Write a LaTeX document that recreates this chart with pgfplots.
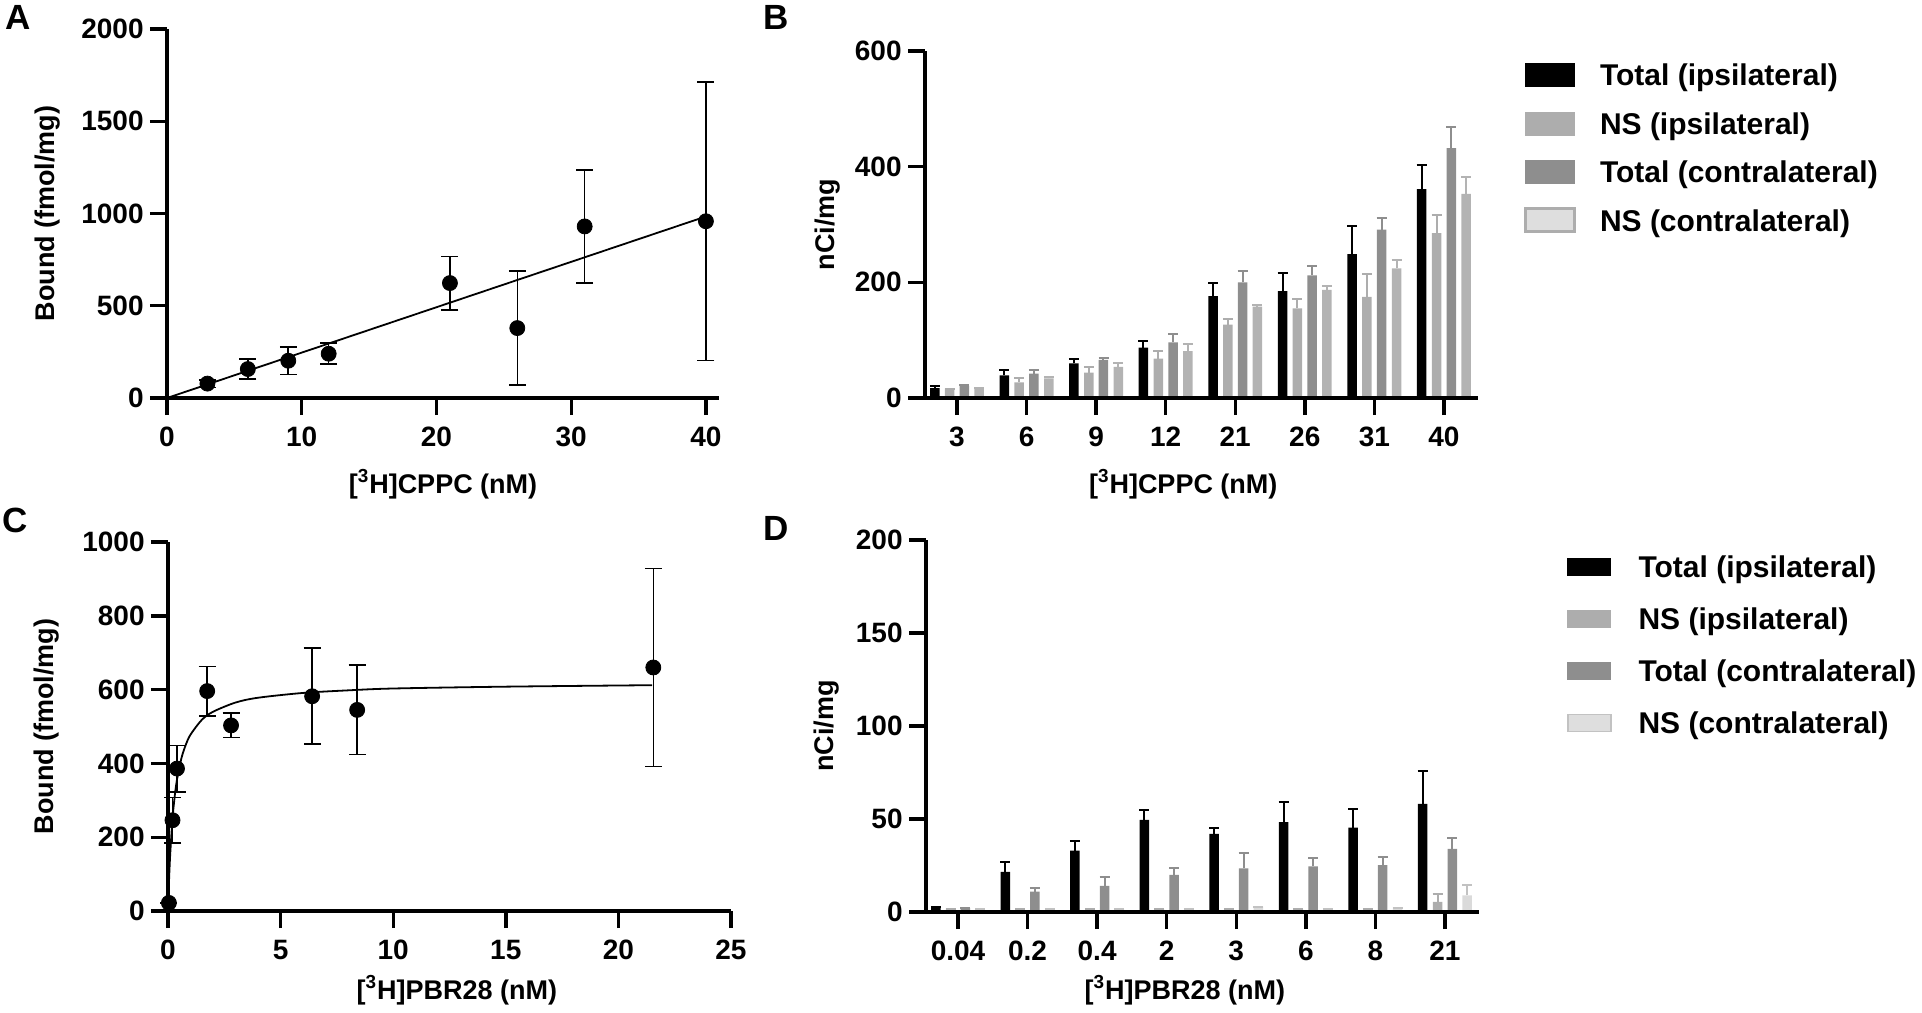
\documentclass[border=0pt]{standalone}
\usepackage{fontspec}
\setmainfont{Liberation Sans}
\usepackage{pgfplots}
\pgfplotsset{compat=1.18}
\definecolor{nsi}{HTML}{ADADAD}
\definecolor{tc}{HTML}{8E8E8E}
\definecolor{nsc}{HTML}{B3B3B3}
\definecolor{nscD}{HTML}{DADADA}
\definecolor{nscL}{HTML}{DEDEDE}
\definecolor{nscB}{HTML}{C2C2C2}
\newcommand{\tkfnt}{\fontsize{14}{16}\selectfont\bfseries}
\newcommand{\lbfnt}{\fontsize{13.5}{16}\selectfont\bfseries}
\newcommand{\lgfnt}{\fontsize{15}{18}\selectfont\bfseries}
\newcommand{\pnfnt}{\fontsize{17.5}{20}\selectfont\bfseries}
\pgfplotsset{
  gp/.style={
    scale only axis, anchor=south west, axis on top,
    axis x line*=bottom, axis y line*=left,
    axis line style={line width=1.7pt},
    tick align=outside, major tick length=8.5pt,
    tick style={black, line width=1.7pt},
    ticklabel style={font=\tkfnt},
    xticklabel style={inner sep=0pt, yshift=-6pt},
    yticklabel style={inner sep=0pt, xshift=-3pt},
    label style={font=\lbfnt},
  },
  bb/.style n args={2}{ybar, bar width=4.75pt, bar shift=0pt, fill=#1, draw=none, forget plot,
    error bars/y dir=plus, error bars/y explicit,
    error bars/error bar style={draw=#2, line width=1pt},
    error bars/error mark options={draw=#2, rotate=90, mark size=2.5pt, line width=1pt}},
  sc/.style={only marks, mark=*, mark size=3.75pt, black, forget plot,
    error bars/y dir=both, error bars/y explicit,
    error bars/error bar style={draw=black, line width=0.8pt},
    error bars/error mark options={draw=black, rotate=90, mark size=4.25pt, line width=0.8pt}},
}
\begin{document}
\begin{tikzpicture}
\useasboundingbox (0,0) rectangle (961pt,-506pt);
% Panel A
\begin{axis}[gp, at={(83.5pt,-199pt)}, width=276pt, height=184.5pt,
  xmin=0, xmax=40.97, ymin=0, ymax=2000, clip=false,
  xtick={0,10,20,30,40}, xticklabels={0,10,20,30,40},
  ytick={0,500,1000,1500,2000}, yticklabels={0,500,1000,1500,2000},
  xlabel={[\textsuperscript{3}H]CPPC (nM)}, ylabel={Bound (fmol/mg)},
  xlabel style={at={(axis description cs:0.5,-0.233)}, anchor=center},
  ylabel style={at={(axis description cs:-0.217,0.5)}, anchor=center}]
\addplot[black, line width=0.9pt, forget plot] coordinates {(0,0) (40,984)};
\addplot[sc] coordinates {
 (3,78) +- (0,20)
 (6,157) +- (0,55)
 (9,202) +- (0,75)
 (12,240) +- (0,57)
 (21,623) +- (0,145)
 (26,379) +- (0,310)
 (31,930) +- (0,307)
 (40,958) +- (0,755)
};
\end{axis}
% Panel B
\begin{axis}[gp, at={(462.5pt,-199pt)}, width=276.5pt, height=173.5pt,
  xmin=-0.46, xmax=7.49, ymin=0, ymax=600,
  ytick={0,200,400,600}, yticklabels={0,200,400,600},
  xtick={0,1,2,3,4,5,6,7}, xticklabels={3,6,9,12,21,26,31,40},
  xlabel={[\textsuperscript{3}H]CPPC (nM)}, ylabel={nCi/mg},
  xlabel style={at={(axis description cs:0.467,-0.248)}, anchor=center},
  ylabel style={at={(axis description cs:-0.177,0.5)}, anchor=center},
  legend image code/.code={\draw[#1] (0pt,-0.35pt) rectangle (24.5pt,11.15pt);},
  legend style={at={(axis description cs:1.0832,0.9718)}, anchor=north west, draw=none, fill=none,
    inner xsep=0pt, inner ysep=0pt, outer sep=0pt, font=\lgfnt, row sep=7.7pt, column sep=12pt,
    nodes={inner sep=0pt, text height=12.5pt, text depth=4pt}, cells={anchor=base west}}]
\addplot[bb={black}{black}] coordinates {
 (-0.319,17) +- (0,4) (0.681,39) +- (0,10) (1.681,60) +- (0,8) (2.681,87) +- (0,12)
 (3.681,176) +- (0,23) (4.681,185) +- (0,32) (5.681,249) +- (0,48) (6.681,361) +- (0,42)};
\addplot[bb={nsi}{nsi}] coordinates {
 (-0.106,15) +- (0,1) (0.894,27) +- (0,7) (1.894,44) +- (0,9) (2.894,68) +- (0,13)
 (3.894,127) +- (0,10) (4.894,155) +- (0,16) (5.894,175) +- (0,39) (6.894,285) +- (0,31)};
\addplot[bb={tc}{tc}] coordinates {
 (0.106,21) +- (0,1) (1.106,42) +- (0,6) (2.106,66) +- (0,4) (3.106,96) +- (0,14)
 (4.106,200) +- (0,20) (5.106,212) +- (0,17) (6.106,291) +- (0,21) (7.106,432) +- (0,37)};
\addplot[bb={nsc}{nsc}] coordinates {
 (0.319,16) +- (0,1) (1.319,34) +- (0,2) (2.319,54) +- (0,7) (3.319,81) +- (0,12)
 (4.319,158) +- (0,2) (5.319,187) +- (0,7) (6.319,224) +- (0,15) (7.319,353) +- (0,29)};
\addlegendimage{fill=black, draw=black}
\addlegendentry{Total (ipsilateral)}
\addlegendimage{fill=nsi, draw=nsi}
\addlegendentry{NS (ipsilateral)}
\addlegendimage{fill=tc, draw=tc}
\addlegendentry{Total (contralateral)}
\addlegendimage{fill=nscL, draw=nsi, line width=1.5pt}
\addlegendentry{NS (contralateral)}
\end{axis}
% Panel C
\begin{axis}[gp, at={(84pt,-455.5pt)}, width=281.5pt, height=184.5pt,
  xmin=0, xmax=25, ymin=0, ymax=1000, clip=false,
  xtick={0,5,10,15,20,25}, xticklabels={0,5,10,15,20,25},
  ytick={0,200,400,600,800,1000}, yticklabels={0,200,400,600,800,1000},
  xlabel={[\textsuperscript{3}H]PBR28 (nM)}, ylabel={Bound (fmol/mg)},
  xlabel style={at={(axis description cs:0.513,-0.214)}, anchor=center},
  ylabel style={at={(axis description cs:-0.215,0.5)}, anchor=center}]
\addplot[black, line width=0.9pt, smooth, forget plot] coordinates {
 (0,0) (0.02,39) (0.05,89) (0.1,156) (0.2,250) (0.3,312) (0.4,356) (0.6,415) (0.8,452)
 (1,478) (1.5,518) (2,540) (3,565) (4,578) (6,591) (8,598) (10,603) (15,608) (21.5,612)};
\addplot[sc] coordinates {
 (0.04,22) +- (0,0)
 (0.2,246) +- (0,62)
 (0.4,386) +- (0,63)
 (1.74,596) +- (0,67)
 (2.8,503) +- (0,33)
 (6.4,582) +- (0,130)
 (8.4,545) +- (0,121)
 (21.55,660) +- (0,268)
};
\end{axis}
% Panel D
\begin{axis}[gp, at={(463pt,-456pt)}, width=276.5pt, height=186pt,
  xmin=-0.46, xmax=7.49, ymin=0, ymax=200,
  ytick={0,50,100,150,200}, yticklabels={0,50,100,150,200},
  xtick={0,1,2,3,4,5,6,7}, xticklabels={0.04,0.2,0.4,2,3,6,8,21},
  xlabel={[\textsuperscript{3}H]PBR28 (nM)}, ylabel={nCi/mg},
  xlabel style={at={(axis description cs:0.468,-0.21)}, anchor=center},
  ylabel style={at={(axis description cs:-0.179,0.5)}, anchor=center},
  legend image code/.code={\draw[#1] (0pt,1.15pt) rectangle (21.5pt,9.65pt);},
  legend style={at={(axis description cs:1.159,0.9656)}, anchor=north west, draw=none, fill=none,
    inner xsep=0pt, inner ysep=0pt, outer sep=0pt, font=\lgfnt, row sep=9.5pt, column sep=13.5pt,
    nodes={inner sep=0pt, text height=12.5pt, text depth=4pt}, cells={anchor=base west}}]
\addplot[bb={black}{black}] coordinates {
 (-0.319,2.8) +- (0,0) (0.681,21.6) +- (0,5.1) (1.681,33) +- (0,5.4) (2.681,49.5) +- (0,5.5)
 (3.681,42) +- (0,3) (4.681,48.3) +- (0,10.7) (5.681,45.4) +- (0,9.9) (6.681,58.2) +- (0,17.7)};
\addplot[bb={nsi}{nsi}] coordinates {
 (-0.106,1.4) +- (0,0) (0.894,1.4) +- (0,0) (1.894,1.4) +- (0,0) (2.894,1.4) +- (0,0)
 (3.894,1.4) +- (0,0) (4.894,1.4) +- (0,0) (5.894,1.4) +- (0,0) (6.894,5.4) +- (0,4.3)};
\addplot[bb={tc}{tc}] coordinates {
 (0.106,2.1) +- (0,0) (1.106,11) +- (0,2) (2.106,14) +- (0,5) (3.106,20) +- (0,3.6)
 (4.106,23.4) +- (0,8.3) (5.106,24.5) +- (0,4.5) (6.106,25.2) +- (0,4.2) (7.106,33.9) +- (0,6.1)};
\addplot[bb={nscD}{nscB}] coordinates {
 (0.319,1.4) +- (0,0) (1.319,1.4) +- (0,0) (2.319,1.4) +- (0,0) (3.319,1.4) +- (0,0)
 (4.319,2.9) +- (0,0) (5.319,1.8) +- (0,0) (6.319,2) +- (0,0) (7.319,9) +- (0,5.4)};
\addlegendimage{fill=black, draw=black}
\addlegendentry{Total (ipsilateral)}
\addlegendimage{fill=nsi, draw=nsi}
\addlegendentry{NS (ipsilateral)}
\addlegendimage{fill=tc, draw=tc}
\addlegendentry{Total (contralateral)}
\addlegendimage{fill=nscL, draw=nscB, line width=0.8pt}
\addlegendentry{NS (contralateral)}
\end{axis}
\node[font=\pnfnt] at (9pt,-8.75pt) {A};
\node[font=\pnfnt] at (388pt,-8.5pt) {B};
\node[font=\pnfnt] at (7.5pt,-260pt) {C};
\node[font=\pnfnt] at (388pt,-264pt) {D};
\end{tikzpicture}
\end{document}
